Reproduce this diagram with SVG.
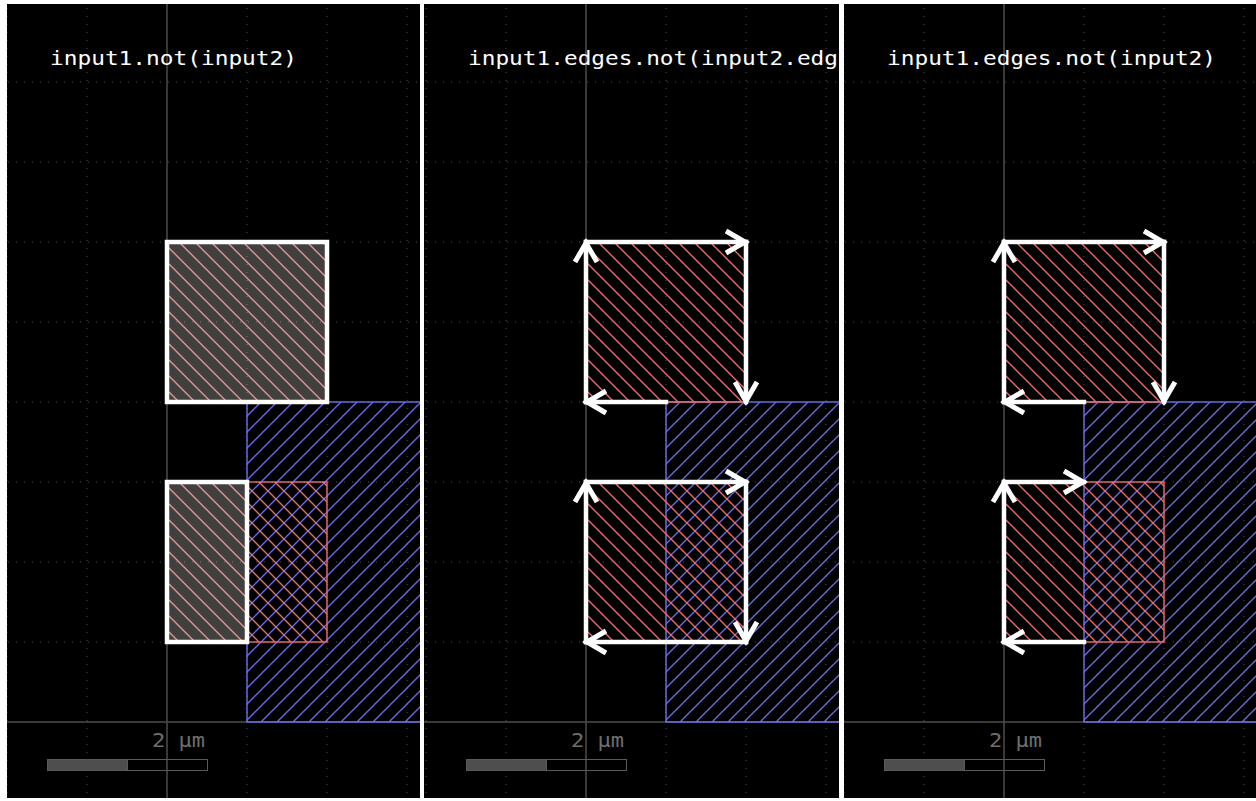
<svg xmlns="http://www.w3.org/2000/svg" width="1256" height="801" viewBox="0 0 1256 801">
  <style>
    .panelbg { fill: #000000; }
    .dot { stroke: #505050; stroke-width: 1; stroke-dasharray: 1 7; fill: none; }
    .axis { stroke: #4c4c4c; stroke-width: 1.5; fill: none; }
    .title { font-family: "DejaVu Sans Mono", "Liberation Mono", monospace; font-size: 20px; fill: #ffffff; }
    .scale { font-family: "DejaVu Sans Mono", "Liberation Mono", monospace; font-size: 20px; fill: #6e6e6e; }
    .blue { fill: url(#hatchBlue); stroke: #7070f0; stroke-width: 1.4; }
    .red { fill: url(#hatchRed); stroke: #f07070; stroke-width: 1.4; }
    .result { fill: #ffffff; fill-opacity: 0.25; stroke: #ffffff; stroke-width: 4.5; }
    .edge { stroke: #ffffff; stroke-width: 4.5; fill: none; stroke-linecap: square; marker-end: url(#arrow); }
  </style>
  <defs>
    <pattern id="hatchRed" patternUnits="userSpaceOnUse" x="1" y="0" width="16" height="16">
      <path d="M-2,-2 L18,18 M-2,14 L2,18 M14,-2 L18,2" stroke="#ee7070" stroke-width="1.3" fill="none"/>
    </pattern>
    <pattern id="hatchBlue" patternUnits="userSpaceOnUse" x="7" y="0" width="16" height="16">
      <path d="M-2,18 L18,-2 M-2,2 L2,-2 M14,18 L18,14" stroke="#6c6cf0" stroke-width="1.3" fill="none"/>
    </pattern>
    <marker id="arrow" markerUnits="userSpaceOnUse" orient="auto" refX="1" refY="0" markerWidth="40" markerHeight="40" viewBox="-25 -20 40 40" overflow="visible">
      <path d="M-19,-11 L0,0 L-19,11" fill="none" stroke="#ffffff" stroke-width="5" stroke-linejoin="miter"/>
    </marker>
    <clipPath id="c1"><rect x="7" y="4" width="413" height="794"/></clipPath>
    <clipPath id="c2"><rect x="424" y="4" width="415" height="794"/></clipPath>
    <clipPath id="c3"><rect x="844" y="4" width="412" height="794"/></clipPath>
    <g id="grid">
      <line class="dot" x1="7" y1="0" x2="7" y2="801"/>
      <line class="dot" x1="87" y1="0" x2="87" y2="801"/>
      <line class="dot" x1="247" y1="0" x2="247" y2="801"/>
      <line class="dot" x1="327" y1="0" x2="327" y2="801"/>
      <line class="dot" x1="407" y1="0" x2="407" y2="801"/>
      <line class="dot" x1="0" y1="82" x2="430" y2="82"/>
      <line class="dot" x1="0" y1="162" x2="430" y2="162"/>
      <line class="dot" x1="0" y1="242" x2="430" y2="242"/>
      <line class="dot" x1="0" y1="322" x2="430" y2="322"/>
      <line class="dot" x1="0" y1="402" x2="430" y2="402"/>
      <line class="dot" x1="0" y1="482" x2="430" y2="482"/>
      <line class="dot" x1="0" y1="562" x2="430" y2="562"/>
      <line class="dot" x1="0" y1="642" x2="430" y2="642"/>
      <line class="axis" x1="167" y1="0" x2="167" y2="801"/>
      <line class="axis" x1="0" y1="722" x2="430" y2="722"/>
    </g>
    <g id="inputs">
      <rect class="blue" x="247" y="402" width="300" height="320"/>
      <rect class="red" x="167" y="242" width="160" height="160"/>
      <rect class="red" x="167" y="482" width="160" height="160"/>
    </g>
    <g id="scalebar">
      <text class="scale" x="152" y="747" textLength="53" lengthAdjust="spacingAndGlyphs">2 μm</text>
      <rect x="47.5" y="759.5" width="160" height="11" fill="none" stroke="#5a5a5a" stroke-width="1"/>
      <rect x="47.5" y="759.5" width="80" height="11" fill="#4e4e4e" stroke="#5a5a5a" stroke-width="1"/>
    </g>
  </defs>

  <rect x="0" y="0" width="1256" height="801" fill="#ffffff"/>
  <rect class="panelbg" x="7" y="4" width="413" height="794"/>
  <rect class="panelbg" x="424" y="4" width="415" height="794"/>
  <rect class="panelbg" x="844" y="4" width="412" height="794"/>

  <g id="panel1" clip-path="url(#c1)">
    <use href="#grid"/>
    <use href="#inputs"/>
    <g id="result1">
      <rect class="result" x="167" y="242" width="160" height="160"/>
      <rect class="result" x="167" y="482" width="80" height="160"/>
    </g>
    <text class="title" x="50" y="65" textLength="247" lengthAdjust="spacingAndGlyphs">input1.not(input2)</text>
    <use href="#scalebar"/>
  </g>

  <g id="panel2" clip-path="url(#c2)">
    <g transform="translate(419,0)">
      <use href="#grid"/>
      <use href="#inputs"/>
      <g id="edges2">
        <path class="edge" d="M167,402 L167,242"/>
        <path class="edge" d="M167,242 L327,242"/>
        <path class="edge" d="M327,242 L327,402"/>
        <path class="edge" d="M247,402 L167,402"/>
        <path class="edge" d="M167,642 L167,482"/>
        <path class="edge" d="M167,482 L327,482"/>
        <path class="edge" d="M327,482 L327,642"/>
        <path class="edge" d="M327,642 L167,642"/>
      </g>
      <use href="#scalebar"/>
    </g>
    <text class="title" x="468" y="65" textLength="370" lengthAdjust="spacingAndGlyphs">input1.edges.not(input2.edg</text>
  </g>

  <g id="panel3" clip-path="url(#c3)">
    <g transform="translate(837,0)">
      <use href="#grid"/>
      <use href="#inputs"/>
      <g id="edges3">
        <path class="edge" d="M167,402 L167,242"/>
        <path class="edge" d="M167,242 L327,242"/>
        <path class="edge" d="M327,242 L327,402"/>
        <path class="edge" d="M247,402 L167,402"/>
        <path class="edge" d="M167,642 L167,482"/>
        <path class="edge" d="M167,482 L247,482"/>
        <path class="edge" d="M247,642 L167,642"/>
      </g>
      <use href="#scalebar"/>
    </g>
    <text class="title" x="887" y="65" textLength="329" lengthAdjust="spacingAndGlyphs">input1.edges.not(input2)</text>
  </g>
</svg>
